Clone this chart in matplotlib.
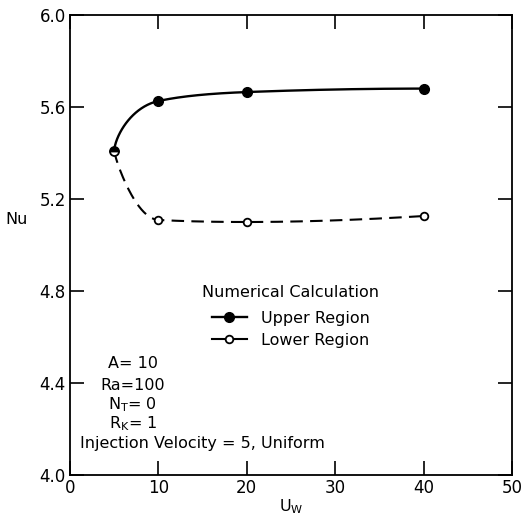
import numpy as np
import matplotlib.pyplot as plt
from matplotlib.lines import Line2D

plt.rcParams['font.family'] = 'DejaVu Sans'
plt.rcParams['mathtext.default'] = 'regular'

# Data
uw = [5, 10, 20, 40]
nu_upper = [5.41, 5.626, 5.665, 5.68]
nu_lower = [5.41, 5.109, 5.10, 5.126]

x_ticks = [0, 10, 20, 30, 40, 50]
y_ticks = [4.0, 4.4, 4.8, 5.2, 5.6, 6.0]


def pchip_slopes(x, y):
    # Fritsch-Carlson monotone slopes
    h = np.diff(x)
    d = np.diff(y) / h
    m = np.zeros_like(y)
    for k in range(1, len(x) - 1):
        if d[k - 1] * d[k] <= 0:
            m[k] = 0.0
        else:
            w1 = 2 * h[k] + h[k - 1]
            w2 = h[k] + 2 * h[k - 1]
            m[k] = (w1 + w2) / (w1 / d[k - 1] + w2 / d[k])

    def end(h0, h1, d0, d1):
        s = ((2 * h0 + h1) * d0 - h0 * d1) / (h0 + h1)
        if np.sign(s) != np.sign(d0):
            s = 0.0
        elif np.sign(d0) != np.sign(d1) and abs(s) > abs(3 * d0):
            s = 3 * d0
        return s

    m[0] = end(h[0], h[1], d[0], d[1])
    m[-1] = end(h[-1], h[-2], d[-1], d[-2])
    return m


def smooth_branch(x, y, p=0.65, n=60):
    # y as a monotone cubic of u = (x - x0)**p: vertical tangent at x0
    x = np.asarray(x, float)
    y = np.asarray(y, float)
    u = (x - x[0]) ** p
    m = pchip_slopes(u, y)
    us, ys = [], []
    for k in range(len(u) - 1):
        hk = u[k + 1] - u[k]
        t = np.linspace(0, 1, n)
        h00 = 2 * t**3 - 3 * t**2 + 1
        h10 = t**3 - 2 * t**2 + t
        h01 = -2 * t**3 + 3 * t**2
        h11 = t**3 - t**2
        yy = h00 * y[k] + h10 * hk * m[k] + h01 * y[k + 1] + h11 * hk * m[k + 1]
        us.append(u[k] + t * hk)
        ys.append(yy)
    us = np.concatenate(us)
    return us ** (1 / p) + x[0], np.concatenate(ys)


fig = plt.figure(figsize=(5.29, 5.19), dpi=100)
ax = fig.add_axes([70 / 529, 1 - 475 / 519, 442 / 529, 460 / 519])
ax.set_xlim(0, 50)
ax.set_ylim(4.0, 6.0)

lx, ly = smooth_branch(uw, nu_lower, p=0.8)
ux, uy = smooth_branch(uw, nu_upper, p=0.65)
ax.plot(lx, ly, color='black', lw=1.5, dashes=(6, 3.5))
ax.plot(ux, uy, color='black', lw=1.7)

ax.plot(uw[1:], nu_lower[1:], 'o', ms=5.5, mfc='white', mec='black', mew=1.3)
ax.plot(uw[1:], nu_upper[1:], 'o', ms=7, color='black')
ax.plot(uw[0], nu_upper[0], 'o', ms=6.5, color='black', fillstyle='top',
        markerfacecoloralt='white', mec='black', mew=1.3)

ax.set_xticks(x_ticks)
ax.set_yticks(y_ticks)
ax.set_xticklabels([str(v) for v in x_ticks])
ax.set_yticklabels([f'{v:.1f}' for v in y_ticks])
ax.tick_params(direction='in', length=10, width=1.2, top=True, right=True,
               labelsize=12, pad=3)
for s in ax.spines.values():
    s.set_linewidth(1.3)

ax.set_xlabel('$U_W$', fontsize=11.5, labelpad=0)
ax.text(-0.12, 0.555, 'Nu', transform=ax.transAxes, fontsize=11.5,
        ha='center', va='center')

# legend
ax.text(25.0, 4.795, 'Numerical Calculation', fontsize=11.5, ha='center',
        va='center')
leg_items = [
    Line2D([], [], color='black', lw=1.7, marker='o', ms=7),
    Line2D([], [], color='black', lw=1.5, marker='o', ms=5.5, mfc='white',
           mew=1.3),
]
ax.legend(leg_items, ['Upper Region', 'Lower Region'], loc='center',
          bbox_to_anchor=(0.5, 0.317), frameon=False, fontsize=11.5,
          handlelength=2.2, handletextpad=0.9, labelspacing=0.45)

# parameters
params = ['A= 10', 'Ra=100', '$N_T$= 0', '$R_K$= 1']
py = [4.483, 4.391, 4.304, 4.222]
for s, yv in zip(params, py):
    ax.text(7.1, yv, s, fontsize=11.5, ha='center', va='center')
ax.text(15.0, 4.135, 'Injection Velocity = 5, Uniform', fontsize=11.5,
        ha='center', va='center')

fig.savefig('out.png', dpi=100)
